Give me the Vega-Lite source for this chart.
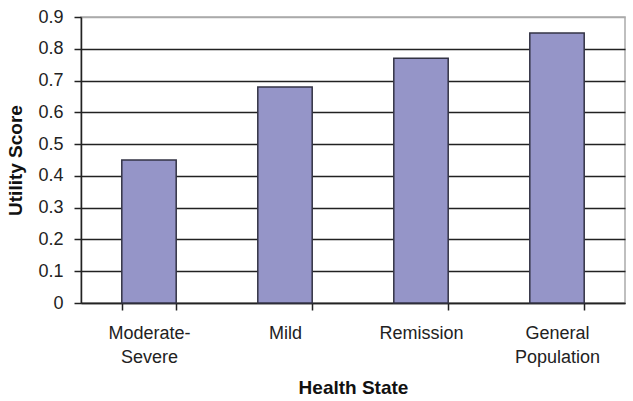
{
  "$schema": "https://vega.github.io/schema/vega-lite/v6.json",
  "autosize": "none",
  "width": 544,
  "height": 286,
  "padding": {"left": 81, "top": 17, "right": 8, "bottom": 98},
  "background": "white",
  "config": {
    "font": "Liberation Sans",
    "view": {"stroke": "#aaaaaa", "strokeWidth": 1.5},
    "axis": {
      "labelFont": "Liberation Sans",
      "titleFont": "Liberation Sans",
      "labelColor": "#222222",
      "titleColor": "#111111",
      "labelFontSize": 18,
      "titleFontSize": 19,
      "titleFontWeight": "bold",
      "domainColor": "#222222",
      "domainWidth": 1.5,
      "tickColor": "#222222",
      "tickWidth": 1.5,
      "tickSize": 7
    }
  },
  "data": {
    "values": [
      {"state": "Moderate-Severe", "utility": 0.45},
      {"state": "Mild", "utility": 0.68},
      {"state": "Remission", "utility": 0.77},
      {"state": "General Population", "utility": 0.85}
    ]
  },
  "mark": {"type": "bar", "fill": "#9595C8", "stroke": "#333344", "strokeWidth": 1.5},
  "encoding": {
    "x": {
      "field": "state",
      "type": "nominal",
      "sort": null,
      "title": "Health State",
      "scale": {"paddingInner": 0.6, "paddingOuter": 0.3},
      "axis": {
        "labelAngle": 0,
        "tickBand": "extent",
        "labelPadding": 14,
        "labelLineHeight": 24,
        "titlePadding": 12,
        "labelExpr": "datum.label == 'Moderate-Severe' ? ['Moderate-', 'Severe'] : datum.label == 'General Population' ? ['General', 'Population'] : datum.label"
      }
    },
    "y": {
      "field": "utility",
      "type": "quantitative",
      "title": "Utility Score",
      "scale": {"domain": [0, 0.9], "nice": false},
      "axis": {
        "values": [0, 0.1, 0.2, 0.3, 0.4, 0.5, 0.6, 0.7, 0.8, 0.9],
        "format": ".1~f",
        "labelPadding": 11,
        "titlePadding": 12,
        "grid": true,
        "gridWidth": 1.5,
        "gridColor": {"condition": {"test": "datum.value >= 0.89", "value": "#aaaaaa"}, "value": "#222222"}
      }
    }
  }
}
